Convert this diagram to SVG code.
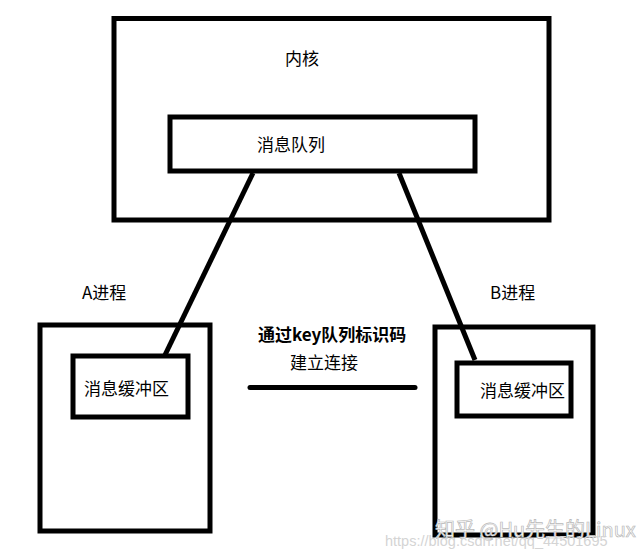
<svg xmlns="http://www.w3.org/2000/svg" width="640" height="559" viewBox="0 0 640 559">
<style>
.box{fill:none;stroke:#000;stroke-width:5}
.lbl{font-family:"Noto Sans CJK SC","Liberation Sans",sans-serif;font-size:17px;fill:#000}
.bold{font-weight:bold}
.conn{stroke:#000;stroke-width:5;fill:none}
.wm{font-family:"Noto Sans CJK SC","Liberation Sans",sans-serif;fill:#fff;stroke:#b8b8b8;stroke-width:0.7}
.wm2{font-family:"Liberation Sans","Noto Sans CJK SC",sans-serif;fill:#d4d4d4}
</style>
<rect width="640" height="559" fill="#fff"/>
<g id="kernel">
<rect class="box" x="114" y="18.5" width="435" height="201.5"/>
<text class="lbl" x="285" y="65">内核</text>
</g>
<g id="msgqueue">
<rect class="box" x="170" y="117" width="305" height="54"/>
<text class="lbl" x="257" y="151">消息队列</text>
</g>
<g id="procA">
<rect class="box" x="40" y="325" width="170" height="206"/>
<text class="lbl" x="82" y="299">A进程</text>
</g>
<g id="bufA">
<rect class="box" x="73" y="356" width="115" height="61"/>
<text class="lbl" x="84" y="395">消息缓冲区</text>
</g>
<g id="procB">
<rect class="box" x="435" y="327" width="158" height="208"/>
<text class="lbl" x="490" y="299">B进程</text>
</g>
<g id="bufB">
<rect class="box" x="457" y="363" width="114" height="53"/>
<text class="lbl" x="480" y="397">消息缓冲区</text>
</g>
<g id="connectors">
<line class="conn" x1="253" y1="173" x2="165" y2="355"/>
<line class="conn" x1="399" y1="173" x2="475" y2="360"/>
<line class="conn" x1="250" y1="387.5" x2="415" y2="387.5" stroke-linecap="round"/>
</g>
<g id="linklabel">
<text class="lbl bold" x="258" y="341">通过key队列标识码</text>
<text class="lbl" x="290" y="369">建立连接</text>
</g>
<g id="watermark">
<text class="wm" x="435" y="537" font-size="20">知乎 @Hu先生的Linux</text>
<text class="wm2" x="385" y="546" font-size="14.5">https://blog.csdn.net/qq_44501695</text>
</g>
</svg>
